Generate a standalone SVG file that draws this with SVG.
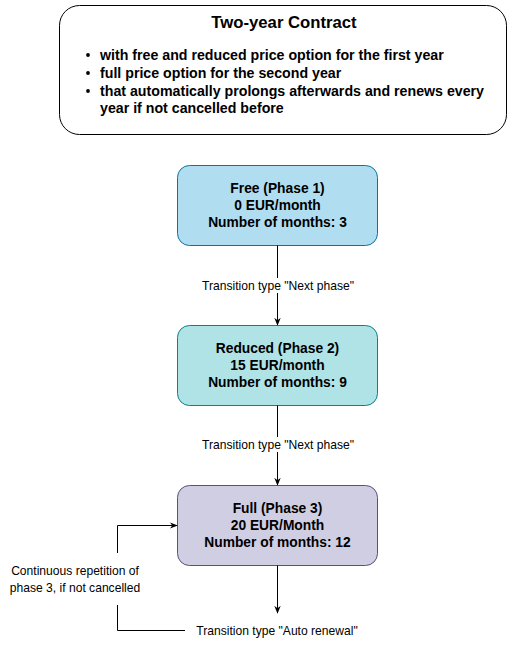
<svg xmlns="http://www.w3.org/2000/svg" width="513" height="651" viewBox="0 0 513 651">
<defs>
<marker id="arr" viewBox="0 0 10 10" refX="9" refY="5" markerWidth="8" markerHeight="8" markerUnits="userSpaceOnUse" orient="auto">
<path d="M0,1 L10,5 L0,9 L3,5 Z" fill="#000"/>
</marker>
</defs>
<style>
text{font-family:"Liberation Sans",Arial,sans-serif;fill:#000}
.nt{font-size:13.8px;font-weight:bold;text-anchor:middle}
.lbl{font-size:12.1px;text-anchor:middle}
.bl{font-size:14.2px;font-weight:bold}
.ln{fill:none;stroke:#000;stroke-width:1}
</style>
<rect width="513" height="651" fill="#fff"/>
<g id="contract">
<rect x="59.5" y="5.5" width="447" height="129" rx="20" fill="#fff" stroke="#000"/>
<text x="284" y="28" font-size="16.7" font-weight="bold" text-anchor="middle">Two-year Contract</text>
<circle cx="88" cy="55" r="1.9" fill="#000"/>
<circle cx="88" cy="73" r="1.9" fill="#000"/>
<circle cx="88" cy="91" r="1.9" fill="#000"/>
<text class="bl" x="100" y="60">with free and reduced price option for the first year</text>
<text class="bl" x="100" y="78">full price option for the second year</text>
<text class="bl" x="100" y="96">that automatically prolongs afterwards and renews every</text>
<text class="bl" x="100" y="113">year if not cancelled before</text>
</g>
<g id="free">
<rect x="177.5" y="165.5" width="200" height="80" rx="12" fill="#b1ddf0" stroke="#10739e"/>
<text class="nt" x="277.5" y="193">Free (Phase 1)</text>
<text class="nt" x="277.5" y="210">0 EUR/month</text>
<text class="nt" x="277.5" y="227">Number of months: 3</text>
</g>
<g id="reduced">
<rect x="177.5" y="325.5" width="200" height="80" rx="12" fill="#b0e3e6" stroke="#0e8088"/>
<text class="nt" x="277.5" y="353">Reduced (Phase 2)</text>
<text class="nt" x="277.5" y="370">15 EUR/month</text>
<text class="nt" x="277.5" y="387">Number of months: 9</text>
</g>
<g id="full">
<rect x="177.5" y="485.5" width="200" height="80" rx="12" fill="#d0cee2" stroke="#56517e"/>
<text class="nt" x="277.5" y="513">Full (Phase 3)</text>
<text class="nt" x="277.5" y="530">20 EUR/Month</text>
<text class="nt" x="277.5" y="547">Number of months: 12</text>
</g>
<g id="connectors">
<path class="ln" d="M277.5,245.5 V325" marker-end="url(#arr)"/>
<rect x="200" y="278" width="156" height="15" fill="#fff"/>
<text class="lbl" x="278" y="290">Transition type "Next phase"</text>
<path class="ln" d="M277.5,405.5 V485" marker-end="url(#arr)"/>
<rect x="198" y="437" width="160" height="15" fill="#fff"/>
<text class="lbl" x="278" y="449">Transition type "Next phase"</text>
<path class="ln" d="M277.5,565.5 V613" marker-end="url(#arr)"/>
<text class="lbl" x="277" y="635">Transition type "Auto renewal"</text>
<path class="ln" d="M185,630.5 H117.5 V605"/>
<path class="ln" d="M117.5,553 V525.5 H177" marker-end="url(#arr)"/>
<text class="lbl" x="75" y="575">Continuous repetition of</text>
<text class="lbl" x="75" y="592">phase 3, if not cancelled</text>
</g>
</svg>
